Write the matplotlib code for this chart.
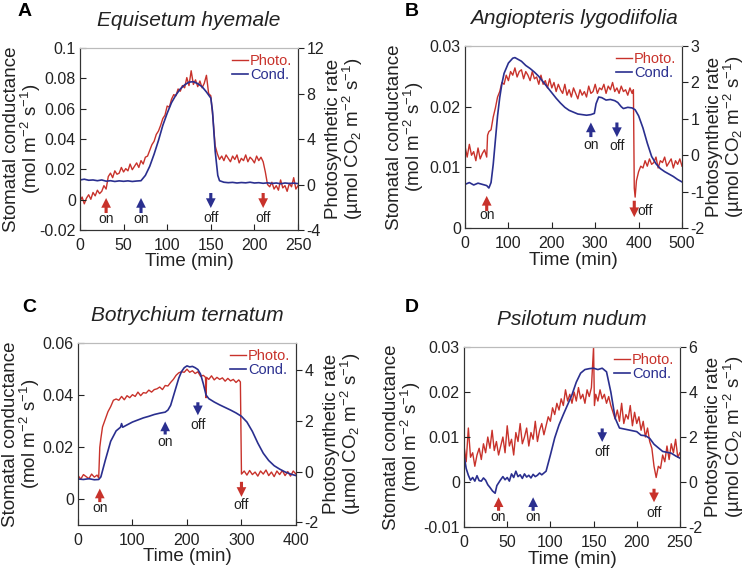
import matplotlib
matplotlib.use("Agg")
import matplotlib.pyplot as plt
import numpy as np

plt.rcParams.update({'font.family': 'Liberation Sans', 'font.size': 11,
                     'mathtext.fontset': 'custom', 'mathtext.rm': 'Liberation Sans',
                     'mathtext.it': 'Liberation Sans:italic', 'axes.unicode_minus': False})

RED = "#c8322b"
BLUE = "#2a2f8f"
TXT = "#222222"

# ---------------- data ----------------
# A: Equisetum hyemale  (photo in right-axis units, cond in left-axis units)
a_photo_t = np.arange(0, 250.1, 2.5)
a_photo = [-1.5, -1.1, -1.7, -1.2, -0.9, -1.3, -0.7, -1.0, -0.5, -0.8,
           -0.6, -0.1, -0.4, 0.7, 1.0, 0.6, 1.2, 0.9, 1.0, 1.5,
           1.1, 1.4, 1.2, 1.8, 1.3, 1.6, 1.9, 1.5, 2.1, 1.8,
           2.4, 2.5, 3.0, 3.5, 3.8, 4.4, 4.7, 5.2, 5.8, 6.1,
           6.9, 6.8, 7.5, 7.9, 7.8, 8.4, 8.2, 8.7, 8.5, 9.4,
           8.7, 10.0, 8.8, 9.2, 8.6, 9.1, 8.5, 8.9, 9.6, 8.0,
           7.8, 5.8, 3.4, 2.7, 2.2, 2.5, 2.1, 2.6, 2.3, 2.0,
           2.5, 2.2, 2.6, 1.9, 2.3, 2.1, 2.6, 2.0, 2.4, 2.2,
           1.9, 2.5, 2.1, 2.4, 2.0, 1.1, 0.0, -0.2, 0.2, -0.4,
           -0.1, -0.5, 0.4, -0.3, -0.1, -0.6, 0.1, -0.2, 0.6, -0.4,
           -0.1]
a_cond_t = [0, 5, 10, 15, 20, 25, 30, 35, 40, 45, 50, 55, 60, 65, 70, 75, 80, 85, 90, 95, 100, 105,
            110, 115, 120, 125, 130, 135, 140, 145, 150, 152, 155, 158, 160, 165, 170, 175, 180,
            185, 190, 195, 200, 205, 210, 215, 220, 225, 230, 235, 240, 245, 250]
a_cond = [0.013, 0.0135, 0.0128, 0.013, 0.0125, 0.013, 0.0122, 0.0125, 0.012, 0.0124, 0.0121, 0.0124,
          0.012, 0.0123, 0.0125, 0.016, 0.022, 0.030, 0.039, 0.049, 0.057, 0.064, 0.069, 0.073,
          0.0757, 0.0775, 0.0778, 0.0765, 0.0745, 0.071, 0.067, 0.058, 0.032, 0.016, 0.0125, 0.0115,
          0.0112, 0.0114, 0.0110, 0.0113, 0.0111, 0.0115, 0.011, 0.0112, 0.0108, 0.0111, 0.0107,
          0.011, 0.0105, 0.011, 0.0107, 0.0109, 0.0106]

# B: Angiopteris lygodiifolia
b_photo_pts = [(0, 0.25), (5, -0.05), (10, 0.3), (15, 0.0), (20, 0.1), (25, -0.15), (30, 0.2),
               (35, -0.1), (40, 0.05), (45, 0.15), (50, -0.05), (52, 0.55), (55, 0.65), (60, 0.7),
               (65, 1.05), (70, 1.3), (75, 1.6), (80, 1.75), (85, 2.0), (90, 1.95), (95, 2.2),
               (100, 2.05), (105, 2.3), (110, 2.2), (115, 2.4), (120, 2.15), (125, 2.3), (130, 2.35),
               (135, 2.1), (140, 2.3), (145, 2.2), (150, 2.05), (155, 2.3), (160, 2.1), (165, 2.15),
               (170, 1.95), (175, 2.2), (180, 1.95), (185, 2.05), (190, 1.85), (195, 2.1), (200, 1.85),
               (205, 2.0), (210, 1.75), (215, 1.95), (220, 1.8), (225, 1.7), (230, 1.95), (235, 1.65),
               (240, 1.8), (245, 1.6), (250, 1.85), (255, 1.7), (260, 1.55), (265, 1.8), (270, 1.65),
               (275, 1.75), (280, 1.6), (285, 1.9), (290, 1.7), (295, 1.75), (300, 1.95), (305, 1.7),
               (310, 1.85), (315, 1.8), (320, 1.95), (325, 1.7), (330, 1.9), (335, 1.8), (340, 2.0),
               (345, 1.75), (350, 1.85), (355, 1.7), (360, 1.9), (365, 1.75), (370, 1.8), (375, 1.65),
               (380, 1.85), (385, 1.7), (388, 1.8), (390, -0.9), (392, -1.15), (395, -0.7),
               (400, -0.45), (405, -0.3), (410, -0.35), (415, -0.15), (420, -0.3), (425, -0.1),
               (430, -0.25), (435, -0.2), (440, -0.05), (445, -0.35), (450, -0.15), (455, -0.2),
               (460, -0.05), (465, -0.3), (470, -0.2), (475, -0.1), (480, -0.35), (485, -0.15),
               (490, -0.25), (495, -0.1), (500, -0.3)]
b_cond_t = [0, 10, 20, 30, 40, 50, 55, 60, 65, 70, 75, 80, 85, 90, 100, 110, 115, 120, 130, 140, 150,
            160, 170, 180, 190, 200, 210, 220, 230, 240, 250, 260, 270, 280, 290, 298, 302, 308, 315,
            325, 335, 345, 352, 360, 365, 375, 385, 392, 400, 410, 420, 430, 440, 450, 460, 470, 480,
            490, 500]
b_cond = [0.0072, 0.0075, 0.0071, 0.0074, 0.0072, 0.0070, 0.0066, 0.0075, 0.0105, 0.0145, 0.0185,
          0.0215, 0.0238, 0.0255, 0.0272, 0.0280, 0.0281, 0.0279, 0.0275, 0.0268, 0.0263, 0.0257,
          0.0250, 0.0241, 0.0232, 0.0223, 0.0214, 0.0206, 0.0199, 0.0194, 0.0191, 0.0188, 0.0187,
          0.0186, 0.0187, 0.0189, 0.0205, 0.0216, 0.0215, 0.0211, 0.0212, 0.0210, 0.0207, 0.0200,
          0.0197, 0.0199, 0.0198, 0.0195, 0.0185, 0.0165, 0.0140, 0.0118, 0.0106, 0.0098, 0.0093,
          0.0089, 0.0085, 0.0080, 0.0076]

# C: Botrychium ternatum
c_photo_pts = [(0, -0.15), (5, -0.3), (10, -0.12), (15, -0.2), (20, -0.28), (25, -0.1), (30, -0.22),
               (35, -0.14), (38, -0.25), (40, 0.95), (42, 1.3), (45, 1.75), (50, 2.05), (55, 2.35),
               (60, 2.55), (65, 2.8), (70, 2.85), (75, 2.8), (80, 2.95), (85, 2.82), (90, 2.98),
               (95, 2.9), (100, 3.02), (105, 2.95), (110, 3.12), (115, 2.98), (120, 3.1), (125, 3.08),
               (130, 3.2), (135, 3.12), (140, 3.22), (145, 3.25), (150, 3.32), (155, 3.22), (160, 3.38),
               (165, 3.36), (170, 3.5), (175, 3.62), (180, 3.78), (185, 3.88), (190, 3.92), (195, 3.9),
               (200, 4.02), (205, 3.9), (210, 3.96), (215, 3.85), (220, 3.92), (225, 3.74), (230, 3.78),
               (234, 3.7), (235, 2.9), (236, 3.7), (240, 3.62), (245, 3.76), (250, 3.6), (255, 3.7),
               (260, 3.62), (265, 3.68), (270, 3.55), (275, 3.66), (280, 3.56), (285, 3.62), (290, 3.5),
               (295, 3.6), (298, 3.52), (300, -0.1), (305, 0.02), (310, -0.14), (315, 0.04), (320, -0.12),
               (325, -0.02), (330, -0.18), (335, 0.02), (340, -0.1), (345, 0.06), (350, -0.16),
               (355, -0.02), (360, -0.2), (365, 0.02), (370, -0.12), (375, 0.04), (380, -0.16),
               (385, 0.0), (390, -0.18), (395, 0.02), (400, -0.1)]
c_cond_t = [0, 10, 20, 30, 38, 42, 50, 60, 70, 78, 80, 82, 90, 100, 110, 120, 130, 140, 150, 160,
            165, 170, 175, 180, 185, 190, 195, 200, 205, 210, 215, 220, 225, 230, 235, 240, 250,
            260, 270, 280, 290, 300, 310, 320, 330, 340, 350, 360, 370, 380, 390, 400]
c_cond = [0.0077, 0.0075, 0.0078, 0.0074, 0.0075, 0.0085, 0.0148, 0.0222, 0.0262, 0.0276, 0.0290,
          0.0276, 0.0285, 0.0296, 0.0304, 0.0312, 0.0318, 0.0325, 0.0330, 0.0334, 0.0342, 0.0360,
          0.0395, 0.0430, 0.0465, 0.0490, 0.0505, 0.0512, 0.0508, 0.0510, 0.0505, 0.0498, 0.0480,
          0.0443, 0.0400, 0.0386, 0.0373, 0.0362, 0.0352, 0.0342, 0.0331, 0.0318, 0.0296, 0.0260,
          0.0215, 0.0176, 0.0148, 0.0128, 0.0115, 0.0104, 0.0096, 0.0090]

# D: Psilotum nudum
d_photo_pts = [(0, 1.6), (2.5, 0.9), (5, 2.4), (7.5, 1.1), (10, 1.3), (12.5, 0.7), (15, 1.2),
               (17.5, 1.5), (20, 1.0), (22.5, 1.7), (25, 1.3), (27.5, 2.0), (30, 1.5), (32.5, 2.3),
               (35, 1.4), (37.5, 1.8), (40, 1.2), (42.5, 1.6), (45, 2.0), (47.5, 1.3), (50, 2.5),
               (52.5, 1.6), (55, 1.9), (57.5, 1.2), (60, 2.2), (62.5, 1.8), (65, 2.6), (67.5, 1.7),
               (70, 2.0), (72.5, 2.4), (75, 1.6), (77.5, 2.2), (80, 1.9), (82.5, 2.7), (85, 1.8),
               (87.5, 2.3), (90, 2.6), (92.5, 2.1), (95, 2.5), (97.5, 2.9), (100, 2.7), (102.5, 3.3),
               (105, 3.0), (107.5, 3.5), (110, 3.2), (112.5, 3.7), (115, 3.4), (117.5, 4.1), (120, 3.6),
               (122.5, 3.9), (125, 3.5), (127.5, 4.0), (130, 3.6), (132.5, 4.2), (135, 3.7), (137.5, 3.9),
               (140, 3.5), (142.5, 4.1), (145, 3.8), (147.5, 4.2), (150, 6.0), (151, 3.4), (152.5, 3.9),
               (155, 3.6), (157.5, 4.1), (160, 3.7), (162.5, 3.9), (165, 3.5), (167.5, 3.8), (170, 3.4),
               (172.5, 3.1), (175, 2.8), (177.5, 3.2), (180, 2.7), (182.5, 3.5), (185, 2.6), (187.5, 3.0),
               (190, 2.8), (192.5, 3.4), (195, 2.5), (197.5, 3.1), (200, 2.6), (202.5, 2.9), (205, 2.3),
               (207.5, 2.7), (210, 2.0), (212.5, 2.4), (215, 1.8), (217.5, 1.5), (220, 0.7), (222.5, 0.2),
               (225, 0.7), (227.5, 0.6), (230, 1.2), (232.5, 0.9), (235, 1.6), (237.5, 1.0), (240, 1.7),
               (242.5, 1.3), (245, 1.9), (247.5, 1.1), (250, 1.3)]
d_cond_pts = [(0, 0.0060), (2.5, 0.0030), (5, 0.0015), (7.5, 0.0004), (10, 0.0010), (12.5, 0.0002),
              (15, 0.0014), (17.5, 0.0003), (20, 0.0002), (22.5, 0.0009), (25, 0.0004), (27.5, -0.0006),
              (30, -0.0012), (33, -0.0020), (36, -0.0025), (38, -0.0008), (42, 0.0004), (45, 0.0012),
              (47.5, 0.0005), (50, 0.0010), (52.5, 0.0002), (55, 0.0018), (57.5, 0.0010), (60, 0.0024),
              (62.5, 0.0012), (65, 0.0016), (67.5, 0.0008), (70, 0.0018), (72.5, 0.0011), (75, 0.0015),
              (77.5, 0.0009), (80, 0.0017), (82.5, 0.0012), (85, 0.0015), (87.5, 0.0020), (90, 0.0016),
              (95, 0.0024), (100, 0.0060), (105, 0.0098), (110, 0.0127), (115, 0.0150), (120, 0.0172),
              (125, 0.0194), (130, 0.0222), (135, 0.0242), (140, 0.0250), (145, 0.0252), (150, 0.0253),
              (155, 0.0250), (160, 0.0253), (165, 0.0245), (170, 0.0200), (175, 0.0142), (180, 0.0120),
              (185, 0.0118), (190, 0.0116), (195, 0.0114), (200, 0.0112), (205, 0.0104), (210, 0.0103),
              (215, 0.0097), (220, 0.0084), (225, 0.0076), (230, 0.0068), (235, 0.0066), (240, 0.0064),
              (245, 0.0058), (250, 0.0053)]

# light on/off arrows: (time, tail, tip, text y, colour, text) in left-axis units
a_events = [(30, -0.0088, 0.0011, -0.0127, RED, "on"), (70, -0.0088, 0.0011, -0.0127, BLUE, "on"),
            (150, 0.0044, -0.0055, -0.0122, BLUE, "off"), (210, 0.0044, -0.0055, -0.0122, RED, "off")]
b_events = [(50, 0.0028, 0.0053, 0.0021, RED, "on"), (290, 0.0150, 0.0174, 0.0137, BLUE, "on"),
            (350, 0.0174, 0.0150, 0.0135, BLUE, "off"), (390, 0.0045, 0.0018, 0.0028, RED, "off")]
c_events = [(40, -0.0012, 0.0040, -0.0033, RED, "on"), (160, 0.0248, 0.0298, 0.0218, BLUE, "on"),
            (220, 0.0372, 0.0322, 0.0286, BLUE, "off"), (300, 0.0066, 0.0008, -0.0025, RED, "off")]
d_events = [(40, -0.0064, -0.0034, -0.0078, RED, "on"), (80, -0.0064, -0.0034, -0.0078, BLUE, "on"),
            (160, 0.0119, 0.0089, 0.0066, BLUE, "off"), (220, -0.0015, -0.0045, -0.0070, RED, "off")]


def unzip(pts):
    return [p[0] for p in pts], [p[1] for p in pts]


b_photo_t, b_photo = unzip(b_photo_pts)
c_photo_t, c_photo = unzip(c_photo_pts)
d_photo_t, d_photo = unzip(d_photo_pts)
d_cond_t, d_cond = unzip(d_cond_pts)

panels = [
    dict(letter="A", title="Equisetum hyemale", pos=[0.107, 0.5986, 0.292, 0.3176],
         lpos=(18, 11), ylx=-0.168, yrx=1.122, xly=-0.125,
         xlim=(0, 250), xticks=[0, 50, 100, 150, 200, 250],
         ylim=(-0.02, 0.1), yticks=[-0.02, 0, 0.02, 0.04, 0.06, 0.08, 0.1],
         ylabels=["-0.02", "0", "0.02", "0.04", "0.06", "0.08", "0.1"],
         y2lim=(-4, 12), y2ticks=[-4, 0, 4, 8, 12],
         pt=a_photo_t, p=a_photo, ct=a_cond_t, c=a_cond, ev=a_events),
    dict(letter="B", title="Angiopteris lygodiifolia", pos=[0.6225, 0.602, 0.2905, 0.3176],
         lpos=(405, 11), ylx=-0.18, yrx=1.11, xly=-0.13,
         xlim=(0, 500), xticks=[0, 100, 200, 300, 400, 500],
         ylim=(0, 0.03), yticks=[0, 0.01, 0.02, 0.03], ylabels=["0", "0.01", "0.02", "0.03"],
         y2lim=(-2, 3), y2ticks=[-2, -1, 0, 1, 2, 3],
         pt=b_photo_t, p=b_photo, ct=b_cond_t, c=b_cond, ev=b_events),
    dict(letter="C", title="Botrychium ternatum", pos=[0.1044, 0.0838, 0.2918, 0.3176],
         lpos=(22, 308), ylx=-0.165, yrx=1.122, xly=-0.125,
         xlim=(0, 400), xticks=[0, 100, 200, 300, 400],
         ylim=(-0.01, 0.06), yticks=[0, 0.02, 0.04, 0.06], ylabels=["0", "0.02", "0.04", "0.06"],
         y2lim=(-2.1, 5.05), y2ticks=[-2, 0, 2, 4],
         pt=c_photo_t, p=c_photo, ct=c_cond_t, c=c_cond, ev=c_events),
    dict(letter="D", title="Psilotum nudum", pos=[0.6212, 0.0803, 0.289, 0.314],
         lpos=(405, 308), ylx=-0.19, yrx=1.118, xly=-0.135,
         xlim=(0, 250), xticks=[0, 50, 100, 150, 200, 250],
         ylim=(-0.01, 0.03), yticks=[-0.01, 0, 0.01, 0.02, 0.03],
         ylabels=["-0.01", "0", "0.01", "0.02", "0.03"],
         y2lim=(-2, 6), y2ticks=[-2, 0, 2, 4, 6],
         pt=d_photo_t, p=d_photo, ct=d_cond_t, c=d_cond, ev=d_events),
]

W, H = 747, 573
fig = plt.figure(figsize=(W / 100, H / 100), dpi=100)

for pn in panels:
    ax = fig.add_axes(pn["pos"])
    ax2 = ax.twinx()
    ax.set_zorder(ax2.get_zorder() + 1)
    ax.patch.set_visible(False)

    lp, = ax2.plot(pn["pt"], pn["p"], color=RED, lw=1.0)
    lc, = ax.plot(pn["ct"], pn["c"], color=BLUE, lw=1.2)

    ax.set_xlim(*pn["xlim"])
    ax.set_ylim(*pn["ylim"])
    ax2.set_ylim(*pn["y2lim"])
    ax.set_xticks(pn["xticks"])
    ax.set_yticks(pn["yticks"])
    ax.set_yticklabels(pn["ylabels"])
    ax2.set_yticks(pn["y2ticks"])

    ax.tick_params(direction="in", length=4, width=0.8, labelsize=11.5, colors=TXT, pad=3)
    ax.tick_params(axis="x", pad=6)
    ax2.tick_params(direction="out", length=4, width=0.8, labelsize=11.5, colors=TXT, pad=2)
    for a in (ax, ax2):
        for s in a.spines.values():
            s.set_color("#333333")
        a.spines["top"].set_color("#bbbbbb")

    ax.set_xlabel("Time (min)", fontsize=13.5, color=TXT)
    ax.xaxis.set_label_coords(0.5, pn["xly"])
    ax.set_ylabel("Stomatal conductance\n(mol m$^{-2}$ s$^{-1}$)", fontsize=13.5,
                  linespacing=0.95, color=TXT)
    ax.yaxis.set_label_coords(pn["ylx"], 0.5)
    ax2.set_ylabel("Photosynthetic rate\n(\u00b5mol CO$_2$ m$^{-2}$ s$^{-1}$)", fontsize=13.5,
                   linespacing=0.95, rotation=90, color=TXT)
    ax2.yaxis.set_label_coords(pn["yrx"], 0.5)

    ax.set_title(pn["title"], style="italic", fontsize=15, pad=16, color=TXT)
    fig.text(pn["lpos"][0] / W, 1 - pn["lpos"][1] / H, pn["letter"], fontsize=14,
             fontweight="bold", va="center", ha="left")

    ax.legend([lp, lc], ["Photo.", "Cond."], loc="upper right", frameon=False,
              fontsize=10.5, handlelength=1.1, handletextpad=0.15, labelspacing=0.0,
              borderaxespad=0.2, borderpad=0.2, labelcolor="linecolor")

    for t, tail, tip, ly, col, txt in pn["ev"]:
        ax.annotate("", xy=(t, tip), xytext=(t, tail),
                    arrowprops=dict(arrowstyle="simple,head_width=0.5,head_length=0.5,tail_width=0.16",
                                    color=col, lw=0, mutation_scale=14, shrinkA=0, shrinkB=0))
        if pn["letter"] == "B" and txt == "off" and col == RED:
            ax.text(t + 7, ly, txt, fontsize=10, ha="left", va="center", color=TXT)
        else:
            ax.text(t, ly, txt, fontsize=10, ha="center", va="center", color=TXT)

fig.savefig("out.png", dpi=100)
